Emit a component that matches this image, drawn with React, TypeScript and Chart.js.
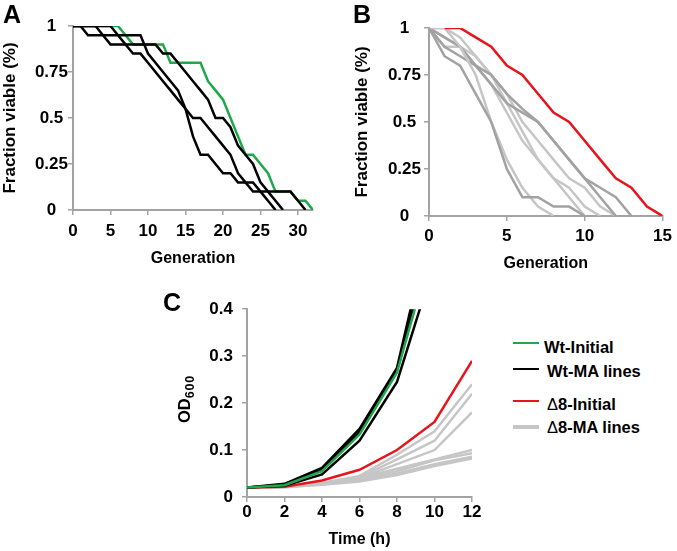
import React, { useEffect, useRef } from "react";
import { Chart, registerables } from "chart.js";

Chart.register(...registerables);

const FONT = '"Liberation Sans", Arial, Helvetica, sans-serif';
const AXIS_GRAY = "#a3a3a3";
const GREEN = "#1ea84a";
const RED = "#e8141b";
const BLACK = "#000000";
const DARK_GRAY = "#a2a2a2";
const LIGHT_GRAY = "#c6c6c6";

// ---------- Panel A: Wt survival (fraction viable per generation, starting at generation 0)
const aWtInitial = [1, 1, 1, 1, 1, 1, 1, 0.95, 0.9, 0.9, 0.9, 0.9, 0.9, 0.8, 0.8, 0.8, 0.8, 0.8, 0.7, 0.65, 0.6, 0.5, 0.4, 0.3, 0.3, 0.25, 0.2, 0.1, 0.1, 0.1, 0.05, 0.05, 0];
const aWtMA1 = [1, 1, 0.95, 0.95, 0.95, 0.95, 0.95, 0.95, 0.95, 0.95, 0.85, 0.8, 0.75, 0.7, 0.65, 0.55, 0.4, 0.3, 0.3, 0.25, 0.2, 0.2, 0.15, 0.15, 0.1, 0.1, 0.05, 0];
const aWtMA2 = [1, 1, 1, 1, 0.95, 0.9, 0.9, 0.9, 0.85, 0.85, 0.8, 0.75, 0.7, 0.65, 0.6, 0.55, 0.5, 0.5, 0.45, 0.4, 0.35, 0.3, 0.2, 0.15, 0.15, 0.1, 0.1, 0.05, 0];
const aWtMA3 = [1, 1, 1, 1, 1, 1, 0.95, 0.9, 0.9, 0.9, 0.9, 0.9, 0.85, 0.85, 0.8, 0.75, 0.7, 0.65, 0.6, 0.5, 0.5, 0.45, 0.35, 0.3, 0.25, 0.15, 0.1, 0.1, 0.1, 0.1, 0.05, 0];
const aXTicks = { min: 0, max: 32, step: 5 };

// ---------- Panel B: Δ8 survival
const bD8Initial = [null, 1, 1, 0.95, 0.9, 0.8, 0.75, 0.65, 0.55, 0.5, 0.4, 0.3, 0.2, 0.15, 0.05, 0];
const bMA1 = [1, 0.85, 0.8, 0.65, 0.5, 0.25, 0.1, 0.1, 0.05, 0.05, 0];
const bMA2 = [1, 1, 0.9, 0.75, 0.5, 0.3, 0.15, 0.05, 0];
const bMA3 = [1, 0.95, 0.9, 0.8, 0.75, 0.65, 0.57, 0.5, 0.4, 0.3, 0.2, 0.15, 0.1, 0];
const bMA4 = [1, 0.9, 0.85, 0.8, 0.7, 0.6, 0.55, 0.5, 0.4, 0.3, 0.2, 0.1, 0];
const bMA5 = [1, 1, 0.95, 0.85, 0.75, 0.6, 0.45, 0.3, 0.2, 0.15, 0.05, 0];
const bMA6 = [1, 0.9, 0.9, 0.85, 0.75, 0.65, 0.5, 0.4, 0.3, 0.2, 0.15, 0.05, 0];
const bMA7 = [1, 0.95, 0.9, 0.8, 0.7, 0.55, 0.4, 0.3, 0.2, 0.1, 0];
const bXTicks = { min: 0, max: 15, step: 5 };

// ---------- Panel C: growth curves (OD600 vs time)
const cTimes = [0, 2, 4, 6, 8, 10, 12];
const cWtInitial = [0.02, 0.025, 0.055, 0.133, 0.265, 0.55];
const cWtMA1 = [0.02, 0.028, 0.062, 0.145, 0.275, 0.62];
const cWtMA2 = [0.02, 0.026, 0.058, 0.138, 0.27, 0.58];
const cWtMA3 = [0.02, 0.024, 0.048, 0.12, 0.245, 0.5];
const cD8Initial = [0.02, 0.022, 0.035, 0.058, 0.1, 0.16, 0.29];
const cD8MA1 = [0.02, 0.022, 0.03, 0.045, 0.09, 0.14, 0.24];
const cD8MA2 = [0.02, 0.022, 0.03, 0.042, 0.08, 0.12, 0.22];
const cD8MA3 = [0.02, 0.022, 0.028, 0.04, 0.07, 0.1, 0.18];
const cD8MA4 = [0.02, 0.022, 0.028, 0.04, 0.06, 0.08, 0.1];
const cD8MA5 = [0.02, 0.022, 0.028, 0.038, 0.055, 0.078, 0.093];
const cD8MA6 = [0.02, 0.021, 0.027, 0.035, 0.05, 0.07, 0.086];
const cD8MA7 = [0.02, 0.021, 0.026, 0.033, 0.047, 0.066, 0.082];

const legendLabels = ["Wt-Initial", "Wt-MA lines", "\u03948-Initial", "\u03948-MA lines"];
const legendColors = [GREEN, BLACK, RED, LIGHT_GRAY];

Chart.defaults.font.family = FONT;
Chart.defaults.font.weight = "bold";
Chart.defaults.font.size = 17;
Chart.defaults.color = "#000";

const byGen = (vals: (number | null)[]) => vals.map((v, i) => ({ x: i, y: v }));
const byTime = (vals: number[]) => vals.map((v, i) => ({ x: cTimes[i], y: v }));

function line(data: any[], color: string, width = 2.5) {
  return {
    data,
    borderColor: color,
    backgroundColor: color,
    borderWidth: width,
    pointRadius: 0,
    pointHoverRadius: 0,
    tension: 0,
    fill: false,
  };
}

function fmt(v: number) {
  return String(Math.round(v * 100) / 100);
}

function axes(o: any) {
  const common = (s: any) => ({
    border: { display: true, color: AXIS_GRAY, width: 2 },
    grid: { display: true, drawOnChartArea: false, drawTicks: true, tickLength: 5, color: AXIS_GRAY, lineWidth: 1.5 },
    ...s,
  });
  return {
    x: common({
      type: "linear",
      min: o.xMin,
      max: o.xMax,
      afterFit: (s: any) => { s.height = o.xH; },
      ticks: { stepSize: o.xStep, includeBounds: false, padding: o.xPad, maxRotation: 0, autoSkip: false, font: { size: 17, weight: "bold" }, callback: (v: any) => fmt(v) },
      title: { display: true, text: o.xTitle, padding: 0, font: { size: 16, weight: "bold" } },
    }),
    y: common({
      type: "linear",
      min: o.yMin,
      max: o.yMax,
      afterFit: (s: any) => { s.width = o.yW; },
      ticks: { stepSize: o.yStep, includeBounds: false, padding: o.yPad, crossAlign: o.cross, autoSkip: false, font: { size: 17, weight: "bold" }, callback: (v: any) => fmt(v) },
      title: { display: !!o.yTitle, text: o.yTitle || "", padding: 0, font: { size: 17, weight: "bold" } },
    }),
  };
}

function ChartBox({ config, left, top, width, height }: any) {
  const ref = useRef<HTMLCanvasElement | null>(null);
  useEffect(() => {
    const chart = new Chart(ref.current as HTMLCanvasElement, config);
    return () => chart.destroy();
  }, []);
  return (
    <canvas
      ref={ref}
      width={width}
      height={height}
      style={{ position: "absolute", left, top, width, height }}
    />
  );
}

const baseOptions = (padding: any, scales: any) => ({
  responsive: false,
  animation: false,
  devicePixelRatio: 1,
  layout: { padding },
  plugins: { legend: { display: false }, tooltip: { enabled: false } },
  events: [],
  scales,
});

const configA = {
  type: "line",
  data: {
    datasets: [
      line(byGen(aWtMA1), BLACK),
      line(byGen(aWtMA2), BLACK),
      line(byGen(aWtMA3), BLACK),
      line(byGen(aWtInitial), GREEN),
    ],
  },
  options: baseOptions(
    { left: 0, right: 17, top: 26, bottom: 0 },
    axes({ xMin: aXTicks.min, xMax: aXTicks.max, xStep: aXTicks.step, xH: 58, xPad: 6, xTitle: "Generation", yMin: 0, yMax: 1, yStep: 0.25, yW: 73, yPad: 0, cross: "center", yTitle: "Fraction viable (%)" })
  ),
};

const configB = {
  type: "line",
  data: {
    datasets: [
      line(byGen(bD8Initial), RED),
      line(byGen(bMA1), DARK_GRAY),
      line(byGen(bMA2), LIGHT_GRAY),
      line(byGen(bMA3), DARK_GRAY),
      line(byGen(bMA4), DARK_GRAY),
      line(byGen(bMA5), LIGHT_GRAY),
      line(byGen(bMA6), LIGHT_GRAY),
      line(byGen(bMA7), LIGHT_GRAY),
    ],
  },
  options: baseOptions(
    { left: 0, right: 12, top: 28, bottom: 0 },
    axes({ xMin: bXTicks.min, xMax: bXTicks.max, xStep: bXTicks.step, xH: 57, xPad: 5, xTitle: "Generation", yMin: 0, yMax: 1, yStep: 0.25, yW: 77, yPad: 3, cross: "center", yTitle: "Fraction viable (%)" })
  ),
};

const configC = {
  type: "line",
  data: {
    datasets: [
      line(byTime(cWtInitial), GREEN),
      line(byTime(cWtMA1), BLACK),
      line(byTime(cWtMA2), BLACK),
      line(byTime(cWtMA3), BLACK),
      line(byTime(cD8Initial), RED),
      line(byTime(cD8MA1), LIGHT_GRAY),
      line(byTime(cD8MA2), LIGHT_GRAY),
      line(byTime(cD8MA3), LIGHT_GRAY),
      line(byTime(cD8MA4), LIGHT_GRAY),
      line(byTime(cD8MA5), LIGHT_GRAY),
      line(byTime(cD8MA6), LIGHT_GRAY),
      line(byTime(cD8MA7), LIGHT_GRAY),
    ],
  },
  options: baseOptions(
    { left: 0, right: 18, top: 19, bottom: 0 },
    axes({ xMin: 0, xMax: 12, xStep: 2, xH: 52, xPad: 0, xTitle: "Time (h)", yMin: 0, yMax: 0.4, yStep: 0.1, yW: 77, yPad: 9, cross: "near", yTitle: "" })
  ),
};

const legendYs = [346.7, 370.7, 404, 427];
const legendLineYs = [343, 369, 401, 427];
const legendTextX = [544, 547, 547, 547];

export default function App() {
  const letter = { position: "absolute", fontFamily: FONT, fontWeight: 700, fontSize: 25, lineHeight: 1 } as any;
  return (
    <div style={{ position: "absolute", left: 0, top: 0, width: 677, height: 551, background: "#fff", overflow: "hidden" }}>
      <ChartBox config={configA} left={0} top={0} width={330} height={268} />
      <ChartBox config={configB} left={352} top={0} width={325} height={273} />
      <ChartBox config={configC} left={170} top={290} width={320} height={259} />
      <div style={{ ...letter, left: 3, top: 2 }}>A</div>
      <div style={{ ...letter, left: 353, top: 2 }}>B</div>
      <div style={{ ...letter, left: 163, top: 290 }}>C</div>
      <div
        style={{
          position: "absolute", left: 185, top: 399, transform: "translate(-50%, -50%) rotate(-90deg)",
          fontFamily: FONT, fontWeight: 700, fontSize: 16.5, whiteSpace: "nowrap", lineHeight: "20px",
        }}
      >
        OD<span style={{ fontSize: 12.5, position: "relative", top: 4, letterSpacing: 0.8 }}>600</span>
      </div>
      {legendLabels.map((lab, i) => (
        <React.Fragment key={lab}>
          <div style={{ position: "absolute", left: 513, top: legendLineYs[i] - (i === 3 ? 2 : 1.25), width: 26, height: i === 3 ? 4 : 2.5, background: legendColors[i] }} />
          <div style={{ position: "absolute", left: legendTextX[i], top: legendYs[i] - 10, fontFamily: FONT, fontWeight: 700, fontSize: 16.5, lineHeight: "20px", whiteSpace: "nowrap" }}>
            {lab.startsWith("\u0394") ? (<><span style={{ fontWeight: 400 }}>{"\u0394"}</span>{lab.slice(1)}</>) : lab}
          </div>
        </React.Fragment>
      ))}
    </div>
  );
}
